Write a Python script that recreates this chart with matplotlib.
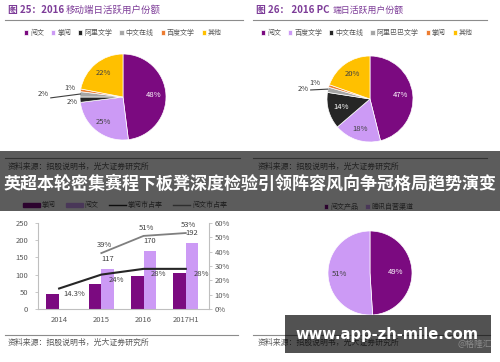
import matplotlib
matplotlib.use('Agg')
import matplotlib.pyplot as plt
import numpy as np
from matplotlib.patches import Rectangle, Patch
from matplotlib.lines import Line2D

plt.rcParams['font.family'] = ['Noto Sans CJK SC', 'DejaVu Sans']

# ---------------- data ----------------
mobile_labels = ['阅文', '掌阅', '阿里文学', '中文在线', '百度文学', '其他']
mobile_values = [48, 25, 2, 2, 1, 22]
pc_labels = ['阅文', '百度文学', '中文在线', '阿里巴巴文学', '掌阅', '其他']
pc_values = [47, 18, 14, 2, 1, 20]
years = ['2014', '2015', '2016', '2017H1']
zhangyue_users = [44, 72, 95, 105]
yuewen_users = [np.nan, 117, 170, 192]
zhangyue_share = [14.3, 24, 28, 28]
yuewen_share = [np.nan, 39, 51, 53]
channel_labels = ['阅文产品', '腾讯自营渠道']
channel_values = [49, 51]
bar_series = ['掌阅', '阅文', '掌阅市占率', '阅文市占率']
source = '资料来源：招股说明书，光大证券研究所'
headline = '英超本轮密集赛程下板凳深度检验引领阵容风向争冠格局趋势演变'
watermark = 'www.app-zh-mile.com'

# ---------------- style ----------------
PURPLE = '#7B0A80'
LILAC = '#CC9AF5'
BLACK = '#262626'
GRAY = '#A6A6A6'
ORANGE = '#ED7D31'
YELLOW = '#FFC000'
TXT = '#595959'
TITLE = '#7D3C98'

W, H = 500, 362
fig = plt.figure(figsize=(5, 3.62), dpi=100)


def fx(px):
    return px / W


def fy(py):
    return 1 - py / H


def hline(x0, x1, y, color='#8c8c8c', lw=0.8):
    fig.add_artist(Line2D([fx(x0), fx(x1)], [fy(y), fy(y)],
                          transform=fig.transFigure, color=color, lw=lw))


def draw_pie(cx, cy, r, values, colors):
    ax = fig.add_axes([fx(cx - r), fy(cy + r), 2 * r / W, 2 * r / H])
    wedges, _ = ax.pie(values, colors=colors, startangle=90, counterclock=False,
                       radius=1, wedgeprops=dict(linewidth=0.5, edgecolor='white'))
    ax.set_xlim(-1, 1)
    ax.set_ylim(-1, 1)
    ax.axis('off')
    return ax, wedges


def mid(w, d):
    a = np.deg2rad((w.theta1 + w.theta2) / 2)
    return d * np.cos(a), d * np.sin(a)


LEG = dict(fontsize=5, frameon=False, handlelength=0.6, handleheight=0.6,
           handletextpad=0.3, columnspacing=1.0, labelcolor=TXT)

# ---------------- titles ----------------
fig.text(fx(8), fy(10), '图 25：2016', color=TITLE, fontsize=7, weight='bold', va='center')
fig.text(fx(66), fy(10), '移动端日活跃用户份额', color=TITLE, fontsize=6.8, va='center', style='italic')
fig.text(fx(256), fy(10), '图 26： 2016 PC', color=TITLE, fontsize=7, weight='bold', va='center')
fig.text(fx(333), fy(10), '端日活跃用户份额', color=TITLE, fontsize=6.4, va='center', style='italic')
hline(5, 243, 20)
hline(253, 487, 20)

# ---------------- pie 1 ----------------
c1 = [PURPLE, LILAC, BLACK, GRAY, ORANGE, YELLOW]
ax1, w1 = draw_pie(123, 97, 43, mobile_values, c1)
fig.legend(w1, mobile_labels, ncol=6, loc='center', bbox_to_anchor=(fx(123), fy(33)), **LEG)
lbl = [f'{v}%' for v in mobile_values]
for i, d, col in [(0, 0.72, 'white'), (1, 0.75, '#404040'), (5, 0.72, '#404040')]:
    ax1.text(*mid(w1[i], d), lbl[i], color=col, fontsize=5.5, ha='center', va='center')
ax1.text(-1.19, -0.12, lbl[2], color='#404040', fontsize=5.5, ha='center', va='center')
ax1.text(-1.23, 0.21, lbl[4], color='#404040', fontsize=5.5, ha='center', va='center')
ax1.text(-1.86, 0.07, lbl[3], color='#404040', fontsize=5.5, ha='center', va='center')
ax1.add_line(Line2D([-1.68, -0.99], [-0.02, 0.07], color='#404040', lw=0.8, clip_on=False))

# ---------------- pie 2 ----------------
c2 = [PURPLE, LILAC, BLACK, GRAY, ORANGE, YELLOW]
ax2, w2 = draw_pie(370, 99, 43, pc_values, c2)
fig.legend(w2, pc_labels, ncol=6, loc='center', bbox_to_anchor=(fx(367), fy(33)), **LEG)
lbl = [f'{v}%' for v in pc_values]
for i, d, col in [(0, 0.72, 'white'), (1, 0.72, '#404040'), (2, 0.7, 'white'), (5, 0.72, '#404040')]:
    ax2.text(*mid(w2[i], d), lbl[i], color=col, fontsize=5.5, ha='center', va='center')
ax2.text(-1.28, 0.37, lbl[4], color='#404040', fontsize=5.5, ha='center', va='center')
ax2.text(-1.56, 0.23, lbl[3], color='#404040', fontsize=5.5, ha='center', va='center')
ax2.add_line(Line2D([-1.38, -0.98], [0.21, 0.23], color='#404040', lw=0.8, clip_on=False))

# ---------------- sources under top charts ----------------
hline(5, 240, 158)
hline(253, 487, 158)
fig.text(fx(8), fy(166), source, color=TXT, fontsize=5.7, va='center')
fig.text(fx(258), fy(166), source, color=TXT, fontsize=5.7, va='center')

# ---------------- bar chart ----------------
axb = fig.add_axes([fx(38), fy(309), (209 - 38) / W, (309 - 223) / H])
x = np.arange(len(years))
bw = 0.3
b1 = axb.bar(x - bw / 2, zhangyue_users, bw, color=PURPLE)
b2 = axb.bar(x + bw / 2, yuewen_users, bw, color=LILAC)
axb.bar_label(b2, labels=['' if np.isnan(v) else f'{v:.0f}' for v in yuewen_users],
              padding=4, fontsize=5.5, color='#404040')
axb.set_ylim(0, 250)
axb.set_xlim(-0.5, 3.55)
axb.set_yticks(range(0, 251, 50))
axb.set_xticks(x)
axb.set_xticklabels(years)
for s in ['top', 'right']:
    axb.spines[s].set_visible(False)
for s in ['left', 'bottom']:
    axb.spines[s].set_color('#BFBFBF')
    axb.spines[s].set_linewidth(0.8)
axb.tick_params(axis='y', length=2, width=0.6, color='#BFBFBF', labelsize=5.5,
                labelcolor=TXT, pad=5)
axb.tick_params(axis='x', length=0, labelsize=5.5, labelcolor=TXT, pad=5)

axr = axb.twinx()
l1, = axr.plot(x, zhangyue_share, color=BLACK, lw=1.5)
l2, = axr.plot(x, yuewen_share, color='#7F7F7F', lw=1.3)
axr.set_ylim(0, 60)
axr.set_xlim(-0.5, 3.55)
axr.set_yticks(range(0, 61, 10))
axr.set_yticklabels([f'{v}%' for v in range(0, 61, 10)])
for s in ['top', 'left', 'bottom']:
    axr.spines[s].set_visible(False)
axr.spines['right'].set_color('#BFBFBF')
axr.spines['right'].set_linewidth(0.8)
axr.tick_params(axis='y', length=2, width=0.6, color='#BFBFBF', labelsize=5.5,
                labelcolor=TXT, pad=2)
for xi, v in zip(x, zhangyue_share):
    axr.annotate(f'{v:g}%', (xi, v), xytext=(11, -4), textcoords='offset points',
                 fontsize=5.5, color='#404040', ha='center', va='center')
for xi, v in zip(x, yuewen_share):
    if not np.isnan(v):
        axr.annotate(f'{v:g}%', (xi, v), xytext=(2, 6), textcoords='offset points',
                     fontsize=5.5, color='#404040', ha='center', va='center')

fig.legend([Patch(color=PURPLE), Patch(color=LILAC),
            Line2D([], [], color=BLACK, lw=1), Line2D([], [], color='#7F7F7F', lw=1)],
           bar_series, ncol=4, loc='center', bbox_to_anchor=(fx(125), fy(205)),
           fontsize=5, frameon=False, handlelength=2.4, handleheight=0.5,
           handletextpad=0.3, columnspacing=1.5, labelcolor=TXT)

# ---------------- pie 3 ----------------
ax3, w3 = draw_pie(370, 273, 42, channel_values, [PURPLE, LILAC])
ax3.text(*mid(w3[0], 0.62), f'{channel_values[0]}%', color='white', fontsize=5.5,
         ha='center', va='center')
ax3.text(*mid(w3[1], 0.72), f'{channel_values[1]}%', color='#404040', fontsize=5.5,
         ha='center', va='center')
fig.legend(w3, channel_labels, ncol=2, loc='center', bbox_to_anchor=(fx(369), fy(207)), **LEG)

# ---------------- bottom sources ----------------
hline(5, 238, 335)
hline(253, 490, 335)
fig.text(fx(8), fy(342), source, color=TXT, fontsize=5.7, va='center')
fig.text(fx(258), fy(342), source, color=TXT, fontsize=5.7, va='center')

# ---------------- overlays ----------------
fig.add_artist(Rectangle((0, fy(211)), 1, (211 - 151) / H, transform=fig.transFigure,
                         facecolor='black', alpha=0.64, edgecolor='none', zorder=10))
fig.text(0.5, fy(183), headline, color='white', fontsize=12.25, weight='bold',
         ha='center', va='center', zorder=11)

fig.add_artist(Rectangle((fx(285), fy(353)), 206 / W, 38 / H, transform=fig.transFigure,
                         facecolor='black', alpha=0.68, edgecolor='none', zorder=10))
fig.text(fx(387), fy(335), watermark, color='white', fontsize=10.6, weight='bold',
         family='DejaVu Sans', ha='center', va='center', zorder=11)
fig.text(fx(475), fy(344), '@格隆汇', color='#8c8c8c', fontsize=6.3,
         ha='center', va='center', zorder=11)

fig.savefig('out.png', dpi=100)
